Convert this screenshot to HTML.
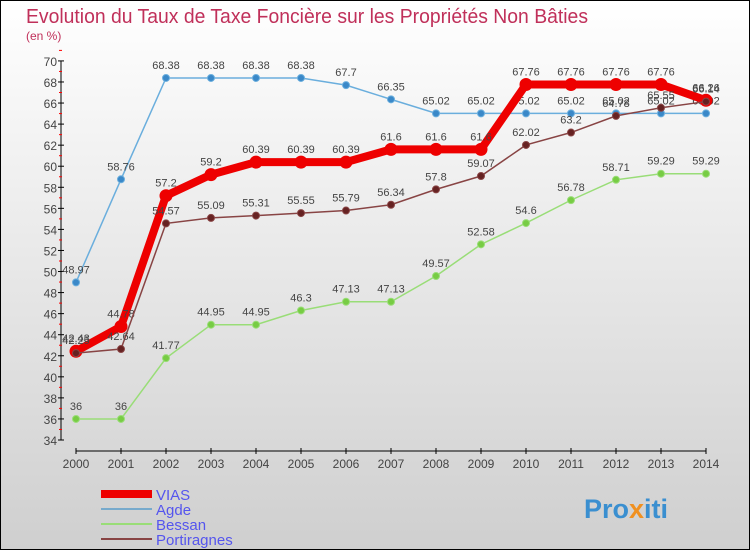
<!DOCTYPE html>
<html><head><meta charset="utf-8"><style>
body{margin:0;width:750px;height:550px;overflow:hidden;font-family:"Liberation Sans",sans-serif}
#wrap{position:relative;width:748px;height:548px;border:1px solid #000;background:linear-gradient(#ffffff,#cfcfcf)}
</style></head><body>
<div id="wrap">
<svg id="chart" width="748" height="548">
<text x="25" y="22" font-size="20" fill="#c0305a" textLength="562" lengthAdjust="spacingAndGlyphs">Evolution du Taux de Taxe Foncière sur les Propriétés Non Bâties</text>
<text x="25" y="39" font-size="12" fill="#c0305a">(en %)</text>
<g id="axes"></g><g id="series"></g><g id="legend"></g>
<g><text x="583" y="517" font-size="27" font-weight="bold" fill="#3a8fd0">Pro<tspan fill="#f09020">x</tspan>iti</text></g>
</svg></div>
<script>
const years=[2000,2001,2002,2003,2004,2005,2006,2007,2008,2009,2010,2011,2012,2013,2014];
const yTicks=[34,36,38,40,42,44,46,48,50,52,54,56,58,60,62,64,66,68,70];
const vias=[42.43,44.78,57.2,59.2,60.39,60.39,60.39,61.6,61.6,61.6,67.76,67.76,67.76,67.76,66.26];
const agde=[48.97,58.76,68.38,68.38,68.38,68.38,67.7,66.35,65.02,65.02,65.02,65.02,65.02,65.02,65.02];
const bessan=[36,36,41.77,44.95,44.95,46.3,47.13,47.13,49.57,52.58,54.6,56.78,58.71,59.29,59.29];
const porti=[42.25,42.64,54.57,55.09,55.31,55.55,55.79,56.34,57.8,59.07,62.02,63.2,64.78,65.55,66.14];
const NS='http://www.w3.org/2000/svg';
const X=i=>75+i*45, Y=v=>439-(v-34)*10.53;
function mk(t,a,p){const e=document.createElementNS(NS,t);for(const k in a)e.setAttribute(k,a[k]);p.appendChild(e);return e;}
const ax=document.getElementById('axes');
let yl=mk('line',{x1:60,y1:Y(70),x2:60,y2:Y(34),stroke:'#000'},ax);

yTicks.forEach(v=>{mk('line',{x1:57,x2:63,y1:Y(v),y2:Y(v),stroke:'#000'},ax);
 mk('line',{x1:58,x2:61,y1:Y(v+1),y2:Y(v+1),stroke:'#f00'},ax);
 const t=mk('text',{x:56,y:Y(v)+5,'text-anchor':'end','font-size':12,fill:'#444'},ax);t.textContent=v;
 });
let xl=mk('line',{x1:75,y1:450,x2:705,y2:450,stroke:'#000'},ax);

years.forEach((y,i)=>{mk('line',{x1:X(i),x2:X(i),y1:447,y2:453,stroke:'#000'},ax);
 const t=mk('text',{x:X(i),y:467,'text-anchor':'middle','font-size':12,fill:'#444'},ax);t.textContent=y;
 });
const sg=document.getElementById('series');
function series(name,vals,col,dot,w,r){
 const g=mk('g',{},sg);
 mk('polyline',{points:vals.map((v,i)=>X(i)+','+Y(v)).join(' '),fill:'none',stroke:col,'stroke-width':w},g);
 vals.forEach((v,i)=>{const c=mk('circle',{cx:X(i),cy:Y(v),r:r,fill:dot,stroke:col,'stroke-width':1},g);
  
  const t=mk('text',{x:X(i),y:Y(v)-9,'text-anchor':'middle','font-size':11,fill:'#444'},g);t.textContent=v;
  });
}
series('bessan',bessan,'#99dd77','#77cc44',1.5,3.5);
series('agde',agde,'#6aaedd','#3a88c8',1.5,3.5);
series('vias',vias,'#ee0000','#ee0000',8,6);
series('portiragnes',porti,'#884444','#662222',1.5,3.5);
const lg=document.getElementById('legend');
[['VIAS','#ee0000',8],['Agde','#77aacc',2],['Bessan','#99dd77',2],['Portiragnes','#884444',2]].forEach((d,i)=>{
 const y=493+i*15;
 const l=mk('line',{x1:100,x2:151,y1:y,y2:y,stroke:d[1],'stroke-width':d[2]},lg);
 
 const t=mk('text',{x:155,y:y+6,'font-size':15,fill:'#5555ee'},lg);t.textContent=d[0];
 });
</script></body></html>
